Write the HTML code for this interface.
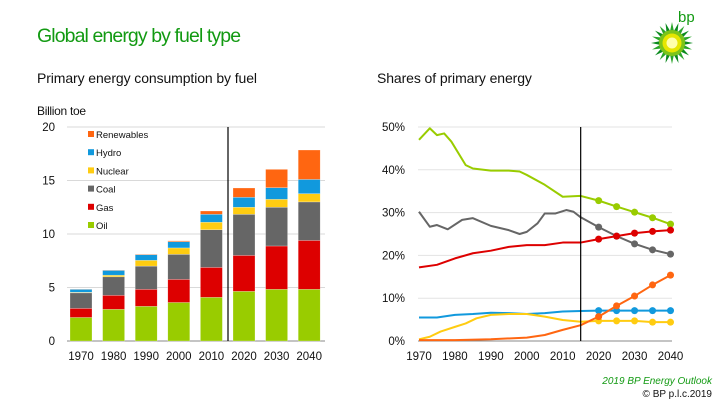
<!DOCTYPE html>
<html><head><meta charset="utf-8">
<style>
body{margin:0;width:720px;height:405px;background:#fff;overflow:hidden;font-family:"Liberation Sans",Arial,sans-serif;position:relative}
.t{position:absolute;white-space:nowrap}
</style></head><body>
<div class="t" style="left:37px;top:25px;font-size:19.5px;color:#129a12;letter-spacing:-0.9px">Global energy by fuel type</div>
<div class="t" style="left:37px;top:70px;font-size:14px;color:#111;letter-spacing:-0.1px">Primary energy consumption by fuel</div>
<div class="t" style="left:377px;top:70px;font-size:14px;color:#111;letter-spacing:-0.1px">Shares of primary energy</div>
<div class="t" style="left:37px;top:104px;font-size:12px;color:#111;letter-spacing:-0.3px">Billion toe</div>
<div class="t" style="right:8px;top:376px;font-size:10px;color:#129a12;font-style:italic">2019 BP Energy Outlook</div>
<div class="t" style="right:8px;top:389px;font-size:10px;color:#111">© BP p.l.c.2019</div>
<svg id="logo" width="720" height="405" style="position:absolute;left:0;top:0">
<text x="678" y="22" font-size="15" fill="#129a12" font-family="Liberation Sans, sans-serif">bp</text>
</svg>
<svg id="chart" width="720" height="405" style="position:absolute;left:0;top:0" font-family="Liberation Sans, sans-serif"></svg>
<script>
// ---- left chart data ----
const barYears=["1970","1980","1990","2000","2010","2020","2030","2040"];
const fuels=["Oil","Gas","Coal","Nuclear","Hydro","Renewables"];
const oil=[2.2,2.96,3.24,3.6,4.08,4.64,4.83,4.83];
const gas=[0.85,1.31,1.59,2.16,2.8,3.36,4.05,4.57];
const coal=[1.45,1.73,2.17,2.34,3.52,3.84,3.62,3.6];
const nuclear=[0.05,0.15,0.54,0.6,0.7,0.66,0.74,0.77];
const hydro=[0.28,0.45,0.53,0.58,0.74,0.93,1.09,1.33];
const renew=[0.02,0.03,0.05,0.08,0.31,0.87,1.71,2.75];
const leftTicks=[0,5,10,15,20];
// ---- right chart data ----
const oilYears=[1970,1973,1975,1977,1979,1983,1985,1990,1995,1998,2000,2005,2010,2015];
const oilShare=[47,49.7,48.1,48.5,46.6,41.1,40.3,39.8,39.8,39.6,38.8,36.5,33.7,33.9];
const coalYears=[1970,1973,1975,1978,1982,1985,1990,1995,1998,2000,2003,2005,2008,2011,2013,2015];
const coalShare=[30.2,26.7,27.1,26.1,28.3,28.7,26.9,25.9,25.0,25.5,27.5,29.8,29.8,30.6,30.2,28.9];
const gasYears=[1970,1975,1980,1985,1990,1995,2000,2005,2010,2015];
const gasShare=[17.2,17.8,19.3,20.5,21.1,22.0,22.4,22.4,23.0,23.0];
const hydroYears=[1970,1975,1980,1985,1990,1995,2000,2005,2010,2015];
const hydroShare=[5.5,5.5,6.1,6.3,6.6,6.5,6.3,6.5,6.9,7.0];
const nucYears=[1970,1973,1976,1980,1983,1986,1990,1995,2000,2005,2010,2015];
const nucShare=[0.4,1.0,2.2,3.3,4.1,5.3,6.1,6.3,6.3,5.7,4.9,4.5];
const renYears=[1970,1980,1990,2000,2005,2010,2015];
const renShare=[0.2,0.2,0.4,0.8,1.4,2.6,3.7];
const projYears=[2020,2025,2030,2035,2040];
const oilProj=[32.8,31.4,30.1,28.8,27.3];
const coalProj=[26.6,24.5,22.7,21.3,20.3];
const gasProj=[23.8,24.5,25.2,25.6,25.9];
const hydroProj=[7.1,7.1,7.1,7.1,7.1];
const nucProj=[4.7,4.7,4.7,4.4,4.4];
const renProj=[5.7,8.2,10.5,13.1,15.4];
const rightTicks=[0,10,20,30,40,50];
const xLabels=[1970,1980,1990,2000,2010,2020,2030,2040];

const colors={Oil:"#99cc00",Gas:"#dd0000",Coal:"#666666",Nuclear:"#ffcc11",Hydro:"#1199dd",Renewables:"#ff6611"};
const svg=document.getElementById('chart');const NS="http://www.w3.org/2000/svg";
function mk(tag,attrs,parent){const e=document.createElementNS(NS,tag);for(const k in attrs)e.setAttribute(k,attrs[k]);(parent||svg).appendChild(e);return e;}

// logo
const logo=document.getElementById('logo');
(function(){const cx=672,cy=43;const g=mk('g',{},logo);


for(let i=0;i<20;i++){const a=i/20*2*Math.PI;const a1=a-0.16,a2=a+0.16;
mk('polygon',{points:`${cx+Math.cos(a)*21},${cy+Math.sin(a)*21} ${cx+Math.cos(a1)*12},${cy+Math.sin(a1)*12} ${cx+Math.cos(a2)*12},${cy+Math.sin(a2)*12}`,fill:i%2?"#2aa52a":"#0b8a1e"},g);}
mk('circle',{cx:cx,cy:cy,r:13,fill:"#7cc41a"},g);mk('circle',{cx:cx,cy:cy,r:9.5,fill:"#e6e600"},g);mk('circle',{cx:cx,cy:cy,r:5.5,fill:"#ffffaa"},g);})();

// ---- left chart ----
const L={x0:67,x1:325,y0:341,y1:127,max:20};
const ly=v=>L.y0-(v/L.max)*(L.y0-L.y1);
const bx=i=>70+i*32.6;
leftTicks.forEach(t=>{const gl=mk('line',{x1:L.x0,x2:L.x1,y1:ly(t),y2:ly(t),stroke:t==0?"#888":"#d9d9d9","stroke-width":1});


const tx=mk('text',{x:55,y:ly(t)+4,"font-size":11.5,"text-anchor":"end",fill:"#111"});tx.textContent=t;

});
const series=[oil,gas,coal,nuclear,hydro,renew];
barYears.forEach((yr,i)=>{let acc=0;series.forEach((s,k)=>{const v=s[i];const r=mk('rect',{x:bx(i),y:ly(acc+v),width:22,height:ly(acc)-ly(acc+v),fill:colors[fuels[k]],stroke:"#fff","stroke-opacity":0.5,"stroke-width":0.5});


acc+=v;});
const tx=mk('text',{x:bx(i)+11,y:360,"font-size":11.5,"text-anchor":"middle",fill:"#111"});tx.textContent=yr;

});
const vl=mk('line',{x1:228,x2:228,y1:127,y2:341,stroke:"#000","stroke-width":1.2});


// legend
const legendOrder=["Renewables","Hydro","Nuclear","Coal","Gas","Oil"];
legendOrder.forEach((f,i)=>{const y=136+i*18.2;const r=mk('rect',{x:88,y:y-5,width:6,height:6,fill:colors[f]});


const tx=mk('text',{x:96,y:y+2,"font-size":9.5,fill:"#111"});tx.textContent=f;

});

// ---- right chart ----
const R={x0:418,x1:672,y0:341,y1:127};
const rx=yr=>419+(yr-1970)*(251.5/70);
const ry=p=>R.y0-(p/50)*(R.y0-R.y1);
rightTicks.forEach(t=>{const gl=mk('line',{x1:R.x0,x2:R.x1,y1:ry(t),y2:ry(t),stroke:t==0?"#888":"#e3e3e3","stroke-width":1});


const tx=mk('text',{x:405,y:ry(t)+4,"font-size":11.5,"text-anchor":"end",fill:"#111"});tx.textContent=t+"%";

});
xLabels.forEach(yr=>{const tx=mk('text',{x:rx(yr),y:360,"font-size":11.5,"text-anchor":"middle",fill:"#111"});tx.textContent=yr;

});
const lines=[["Oil",oilYears,oilShare,oilProj],["Coal",coalYears,coalShare,coalProj],["Gas",gasYears,gasShare,gasProj],["Hydro",hydroYears,hydroShare,hydroProj],["Nuclear",nucYears,nucShare,nucProj],["Renewables",renYears,renShare,renProj]];
lines.forEach(([f,ys,vs,pv])=>{let pts=ys.map((y,i)=>rx(y)+","+ry(vs[i]));
projYears.forEach((y,i)=>pts.push(rx(y)+","+ry(pv[i])));
const pl=mk('polyline',{points:pts.join(" "),fill:"none",stroke:colors[f],"stroke-width":2,"stroke-linejoin":"round"});


projYears.forEach((y,i)=>{const c=mk('circle',{cx:rx(y),cy:ry(pv[i]),r:3.5,fill:colors[f]});

});});
const vr=mk('line',{x1:rx(2015),x2:rx(2015),y1:127,y2:341,stroke:"#000","stroke-width":1.2});


</script>
</body></html>
